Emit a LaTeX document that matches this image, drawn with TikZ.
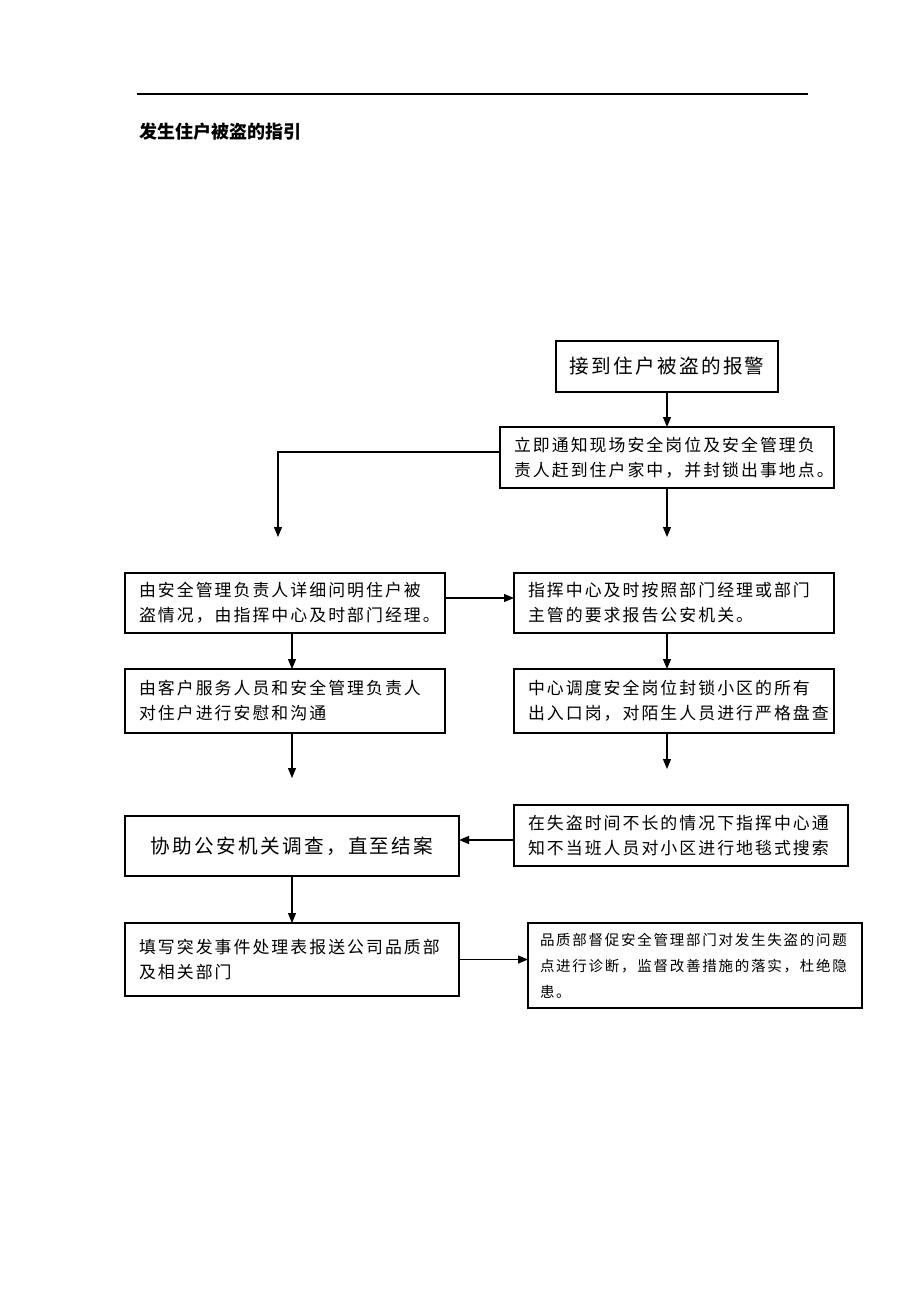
\documentclass[tikz,border=0pt]{standalone}
\usepackage{fontspec}
\usetikzlibrary{arrows.meta}
\newfontfamily\cjk[LetterSpace=12]{Noto Sans CJK SC}
\newfontfamily\cjkt{Noto Sans CJK SC}
\hfuzz=30pt
\begin{document}
\begin{tikzpicture}[x=1pt,y=-1pt,
  box/.style={draw, line width=1.1pt, rectangle, inner xsep=14pt, inner ysep=0pt, outer sep=0pt,
    align=left, anchor=north west, font=\cjk\fontsize{16.9}{25}\selectfont},
  bigbox/.style={box, inner xsep=4pt, align=center, font=\cjk\fontsize{19.6}{24}\selectfont},
  arr/.style={line width=1.1pt, -{Triangle[length=10pt,width=8pt]}},
  rule/.style={line width=1.1pt}]
\useasboundingbox[fill=white] (0,0) rectangle (920,1302);
% top rule and title
\coordinate (r1) at (137,94);
\coordinate (r2) at (808,94);
\draw[rule] (r1) -- (r2);
\node[anchor=west, inner sep=0pt, font=\cjkt\bfseries\fontsize{18}{20}\selectfont] (title) at (139,132) {发生住户被盗的指引};
% boxes
\node[bigbox, minimum width=222pt, minimum height=51pt] (A) at (556,341) {接到住户被盗的报警};
\node[box, minimum width=334pt, minimum height=61pt, text width=306pt] (B) at (500,427)
  {立即通知现场安全岗位及安全管理负\\责人赶到住户家中，并封锁出事地点。};
\node[box, minimum width=320pt, minimum height=60pt, text width=292pt] (C) at (125,573)
  {由安全管理负责人详细问明住户被\\盗情况，由指挥中心及时部门经理。};
\node[box, minimum width=320pt, minimum height=60pt, text width=292pt] (D) at (514,573)
  {指挥中心及时按照部门经理或部门\\主管的要求报告公安机关。};
\node[box, minimum width=320pt, minimum height=64pt, text width=292pt] (E) at (125,669)
  {由客户服务人员和安全管理负责人\\对住户进行安慰和沟通};
\node[box, minimum width=320pt, minimum height=64pt, text width=292pt] (F) at (514,669)
  {中心调度安全岗位封锁小区的所有\\出入口岗，对陌生人员进行严格盘查};
\node[bigbox, minimum width=334pt, minimum height=60pt] (G) at (125,816) {协助公安机关调查，直至结案};
\node[box, minimum width=334pt, minimum height=61pt, text width=306pt] (H) at (514,805)
  {在失盗时间不长的情况下指挥中心通\\知不当班人员对小区进行地毯式搜索};
\node[box, minimum width=334pt, minimum height=73pt, text width=306pt] (I) at (125,923)
  {填写突发事件处理表报送公司品质部\\及相关部门};
\node[box, inner xsep=12pt, minimum width=334pt, minimum height=85pt, text width=310pt,
  font=\cjk\fontsize{14.5}{26}\selectfont] (J) at (528,923)
  {品质部督促安全管理部门对发生失盗的问题\\点进行诊断，监督改善措施的落实，杜绝隐\\患。};
% free ends
\coordinate (e1) at (278,537);
\coordinate (e2) at (667,537);
\coordinate (e3) at (292,778);
\coordinate (e4) at (667,769);
% connectors
\draw[arr] (A.south) -- (B.north);
\draw[arr] ([yshift=5.5pt]B.west) -| (e1);
\draw[arr] (B.south) -- (e2);
\draw[arr] ([yshift=5pt]C.east) -- ([yshift=5pt]C.east -| D.west);
\draw[arr] (C.south -| G.south) -- (E.north -| G.north);
\draw[arr] (D.south -| e2) -- (F.north -| e2);
\draw[arr] (E.south -| G.south) -- (e3);
\draw[arr] (F.south -| e4) -- (e4);
\draw[arr] ([yshift=-4.5pt]H.west) -- ([yshift=-4.5pt]H.west -| G.east);
\draw[arr] (G.south) -- (I.north);
\draw[arr] (I.east) -- (I.east -| J.west);
\end{tikzpicture}
\end{document}
